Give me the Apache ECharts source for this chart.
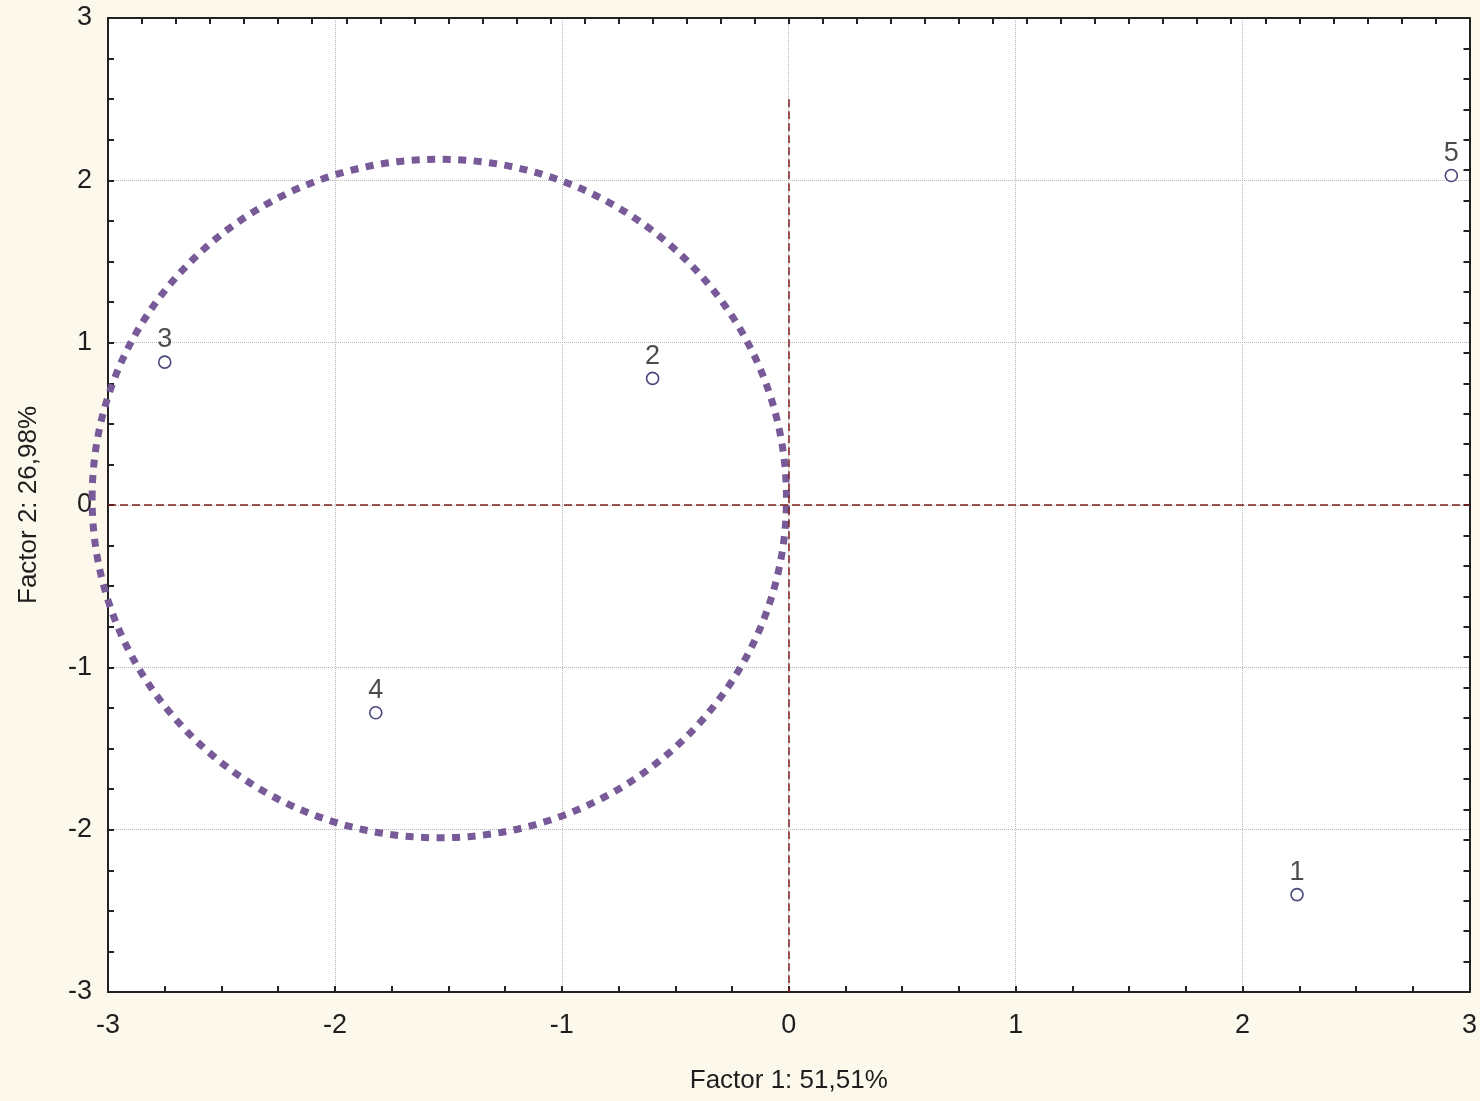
<!DOCTYPE html>
<html>
<head>
<meta charset="utf-8">
<script src="https://cdn.jsdelivr.net/npm/echarts@6/dist/echarts.min.js"></script>
<style>
  html, body { margin: 0; padding: 0; background: #fcf8ec; }
  #chart { width: 1480px; height: 1101px; }
</style>
</head>
<body>
<div id="chart"></div>
<script>
// case scores
const caseNames = ['1', '2', '3', '4', '5']
const factor1 = [2.24, -0.60, -2.75, -1.82, 2.92]
const factor2 = [-2.40, 0.78, 0.88, -1.28, 2.03]

// reference lines
const vLine = [[0, 2.5], [0, -3]]
const hLine = [[-3, 0], [3, 0]]

// grouping ellipse (center, radii in data units)
const ringCenter = [-1.54, 0.04]
const ringRadius = [1.53, 2.09]

const font = 'Liberation Sans, Arial, sans-serif'
const txt = '#1e1e1e'

var chart = echarts.init(document.getElementById('chart'))

var points = caseNames.map((n, i) => [factor1[i], factor2[i], n])

var opt = {
  backgroundColor: '#fcf8ec',
  animation: false,
  grid: { left: 108, right: 10, top: 18, bottom: 109, backgroundColor: '#fff', show: true, borderWidth: 0 },
  xAxis: [
    {
      type: 'value', min: -3, max: 3, interval: 1, position: 'bottom',
      name: 'Factor 1: 51,51%', nameLocation: 'middle', nameGap: 76,
      nameTextStyle: { fontSize: 26, color: txt, fontFamily: font },
      axisLine: { show: true, onZero: false, lineStyle: { color: '#222', width: 2 } },
      axisTick: { show: true, inside: true, length: 6, lineStyle: { color: '#222', width: 2 } },
      minorTick: { show: true, splitNumber: 4, length: 6, lineStyle: { color: '#222', width: 2 } },
      axisLabel: { fontSize: 27, color: txt, fontFamily: font, margin: 20 },
      splitLine: { show: true, lineStyle: { color: '#b8b8b8', type: 'dotted', width: 1 } }
    },
    {
      type: 'value', min: -3, max: 3, interval: 0.15, position: 'top',
      axisLine: { show: true, onZero: false, lineStyle: { color: '#222', width: 2 } },
      axisTick: { show: true, inside: true, length: 6, lineStyle: { color: '#222', width: 2 } },
      axisLabel: { show: false },
      splitLine: { show: false }
    }
  ],
  yAxis: [
    {
      type: 'value', min: -3, max: 3, interval: 1, position: 'left',
      name: 'Factor 2: 26,98%', nameLocation: 'middle', nameGap: 66,
      nameTextStyle: { fontSize: 26, color: txt, fontFamily: font },
      axisLine: { show: true, onZero: false, lineStyle: { color: '#222', width: 2 } },
      axisTick: { show: true, inside: true, length: 6, lineStyle: { color: '#222', width: 2 } },
      minorTick: { show: true, splitNumber: 4, length: 6, lineStyle: { color: '#222', width: 2 } },
      axisLabel: { fontSize: 27, color: txt, fontFamily: font, margin: 16 },
      splitLine: { show: true, lineStyle: { color: '#b8b8b8', type: 'dotted', width: 1 } }
    },
    {
      type: 'value', min: -3, max: 3, interval: 0.1875, position: 'right',
      axisLine: { show: true, onZero: false, lineStyle: { color: '#222', width: 2 } },
      axisTick: { show: true, inside: true, length: 6, lineStyle: { color: '#222', width: 2 } },
      axisLabel: { show: false },
      splitLine: { show: false }
    }
  ],
  series: [
    {
      name: 'refs',
      type: 'line',
      data: [],
      markLine: {
        silent: true,
        symbol: 'none',
        label: { show: false },
        lineStyle: { color: '#7e1e1e', type: [8, 4], width: 1.5 },
        data: [
          [{ coord: vLine[0] }, { coord: vLine[1] }],
          [{ coord: hLine[0] }, { coord: hLine[1] }]
        ]
      }
    },
    {
      name: 'ring',
      type: 'custom',
      silent: true,
      data: [[ringCenter[0], ringCenter[1], ringRadius[0], ringRadius[1]]],
      renderItem: function (params, api) {
        var c = api.coord([api.value(0), api.value(1)])
        var s = api.size([api.value(2), api.value(3)])
        return {
          type: 'ellipse',
          shape: { cx: c[0], cy: c[1], rx: s[0], ry: s[1] },
          style: { fill: null, stroke: '#775a97', lineWidth: 7, lineDash: [8, 7.5], lineCap: 'butt' },
          z2: 5
        }
      }
    },
    {
      name: 'cases',
      type: 'scatter',
      symbol: 'circle',
      symbolSize: 12,
      data: points,
      itemStyle: { color: '#fff', borderColor: '#1c1c5c', borderWidth: 1.6 },
      label: {
        show: true, position: 'top', distance: 2,
        formatter: p => p.value[2],
        fontSize: 27, color: txt, fontFamily: font
      },
      z: 10
    }
  ]
}

chart.setOption(opt)
</script>
</body>
</html>
